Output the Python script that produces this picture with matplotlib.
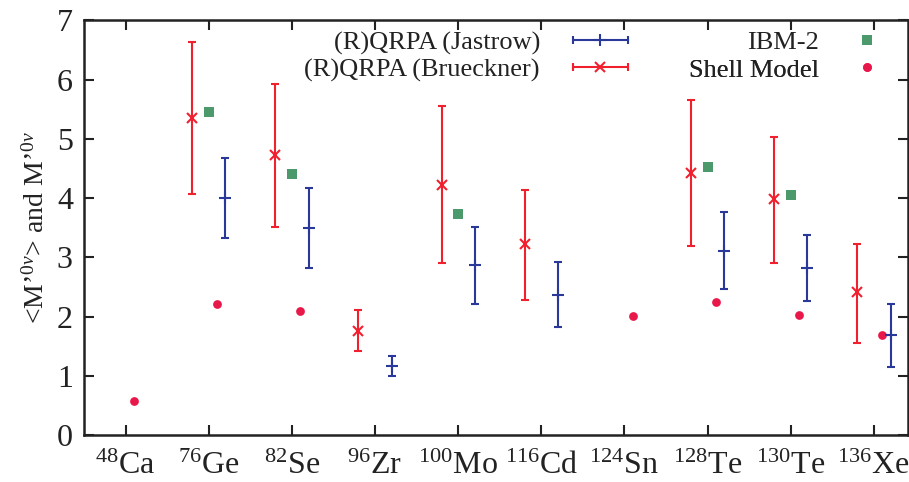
import numpy as np
import matplotlib
matplotlib.use("Agg")
import matplotlib.pyplot as plt
from matplotlib.lines import Line2D
from matplotlib.legend_handler import HandlerBase

plt.rcParams['font.family'] = ['Liberation Serif', 'DejaVu Serif']
plt.rcParams['mathtext.fontset'] = 'custom'
plt.rcParams['mathtext.rm'] = 'Liberation Serif'
plt.rcParams['mathtext.it'] = 'Liberation Serif:italic'
plt.rcParams['mathtext.bf'] = 'Liberation Serif:bold'

# ---------------- data ----------------
masses = ["48", "76", "82", "96", "100", "116", "124", "128", "130", "136"]
symbols = ["Ca", "Ge", "Se", "Zr", "Mo", "Cd", "Sn", "Te", "Te", "Xe"]
nan = np.nan
brueckner_val = [nan, 5.35, 4.72, 1.76, 4.23, 3.22, nan, 4.43, 3.98, 2.41]
brueckner_lo = [nan, 4.07, 3.52, 1.43, 2.90, 2.29, nan, 3.20, 2.91, 1.56]
brueckner_hi = [nan, 6.64, 5.92, 2.11, 5.55, 4.14, nan, 5.66, 5.04, 3.23]
jastrow_val = [nan, 4.00, 3.49, 1.17, 2.87, 2.37, nan, 3.11, 2.82, 1.69]
jastrow_lo = [nan, 3.33, 2.82, 1.00, 2.21, 1.82, nan, 2.46, 2.27, 1.16]
jastrow_hi = [nan, 4.68, 4.17, 1.33, 3.52, 2.92, nan, 3.77, 3.38, 2.21]
ibm2 = [nan, 5.46, 4.40, nan, 3.73, nan, nan, 4.52, 4.06, nan]
shell_model = [0.58, 2.21, 2.10, nan, nan, nan, 2.02, 2.25, 2.03, 1.69]

tick_labels = [r"$^{%s}$%s" % (m, s) for m, s in zip(masses, symbols)]

RED = '#f0202e'
BLUE = '#2a3899'
GREEN = '#4c9a6c'
CRIMSON = '#e8184a'
TXT = '#222222'

fig = plt.figure(figsize=(9.09, 4.82), dpi=100)
ax = fig.add_axes([84 / 909, 1 - 435.3 / 482, (908 - 84) / 909, (435.3 - 20.3) / 482])

x = np.arange(1, len(masses) + 1, dtype=float)


def draw_err(offset, val, lo, hi, color, marker, ms):
    v = np.array(val); l = np.array(lo); h = np.array(hi)
    m = ~np.isnan(v)
    return ax.errorbar(x[m] + offset, v[m], yerr=[v[m] - l[m], h[m] - v[m]],
                       fmt=marker, color=color,
                       ecolor=color, elinewidth=1.5, capsize=3.2, capthick=1.5,
                       ms=ms, mew=1.5, ls='none', zorder=3)


eb_b = draw_err(-0.2, brueckner_val, brueckner_lo, brueckner_hi, RED, 'x', 7)
eb_j = draw_err(0.2, jastrow_val, jastrow_lo, jastrow_hi, BLUE, '+', 8)

ib = np.array(ibm2)
m = ~np.isnan(ib)
sc_ibm, = ax.plot(x[m], ib[m], ls='none', marker='s', ms=6.8, color=GREEN, mew=0, zorder=3)
sm = np.array(shell_model)
m = ~np.isnan(sm)
sc_sm, = ax.plot(x[m] + 0.1, sm[m], ls='none', marker='o', ms=6.3, color=CRIMSON, mew=0, zorder=3)

ax.set_xlim(0.5, 10.41)
ax.set_ylim(0, 7)
ax.set_xticks(x)
ax.set_xticklabels(tick_labels, fontsize=23)
ax.set_yticks(range(0, 8))
ax.tick_params(axis='y', labelsize=23, pad=8)
ax.tick_params(axis='x', pad=12)
ax.tick_params(direction='in', length=7, width=1.5, top=True, right=True, colors=TXT)
for sp in ax.spines.values():
    sp.set_linewidth(1.8)
    sp.set_color(TXT)
ax.set_ylabel(r"<M’$^{0\nu}$> and M’$^{0\nu}$", fontsize=20, labelpad=5, color=TXT)


class HErrHandler(HandlerBase):
    def __init__(self, color, marker, ms):
        super().__init__()
        self.color = color
        self.marker = marker
        self.ms = ms

    def create_artists(self, legend, orig_handle, xdescent, ydescent, width, height, fontsize, trans):
        y = height / 2 - ydescent
        x0 = -xdescent
        x1 = x0 + width
        line = Line2D([x0, x1], [y, y], color=self.color, lw=1.5)
        caps = Line2D([x0, x1], [y, y], ls='none', marker='|', ms=6.4, mew=1.5, color=self.color)
        mk = Line2D([(x0 + x1) / 2], [y], ls='none', marker=self.marker, ms=self.ms, mew=1.5, color=self.color)
        for a in (line, caps, mk):
            a.set_transform(trans)
        return [line, caps, mk]


LFS = 19
LPX = LFS * 100 / 72.0


def add_legend(handle, label, xr, yc, handler=None, hl_px=54.6, gap_px=33):
    hm = {handle: handler} if handler is not None else None
    leg = ax.legend([handle], [label], loc='center right',
                    bbox_to_anchor=(xr / 909, 1 - yc / 482), bbox_transform=fig.transFigure,
                    frameon=False, markerfirst=False, fontsize=LFS, handlelength=hl_px / LPX,
                    handletextpad=gap_px / LPX, borderpad=0, borderaxespad=0, handler_map=hm,
                    numpoints=1)
    for t in leg.get_texts():
        t.set_color(TXT)
    ax.add_artist(leg)
    return leg


add_legend(eb_j, "(R)QRPA (Jastrow)", 627.5, 42.7, HErrHandler(BLUE, '+', 8))
add_legend(eb_b, "(R)QRPA (Brueckner)", 627.5, 70, HErrHandler(RED, 'x', 7))
add_legend(sc_ibm, "IBM-2", 894, 42.7, gap_px=20)
add_legend(sc_sm, "Shell Model", 894, 70, gap_px=20)

fig.savefig("out.png", dpi=100)
